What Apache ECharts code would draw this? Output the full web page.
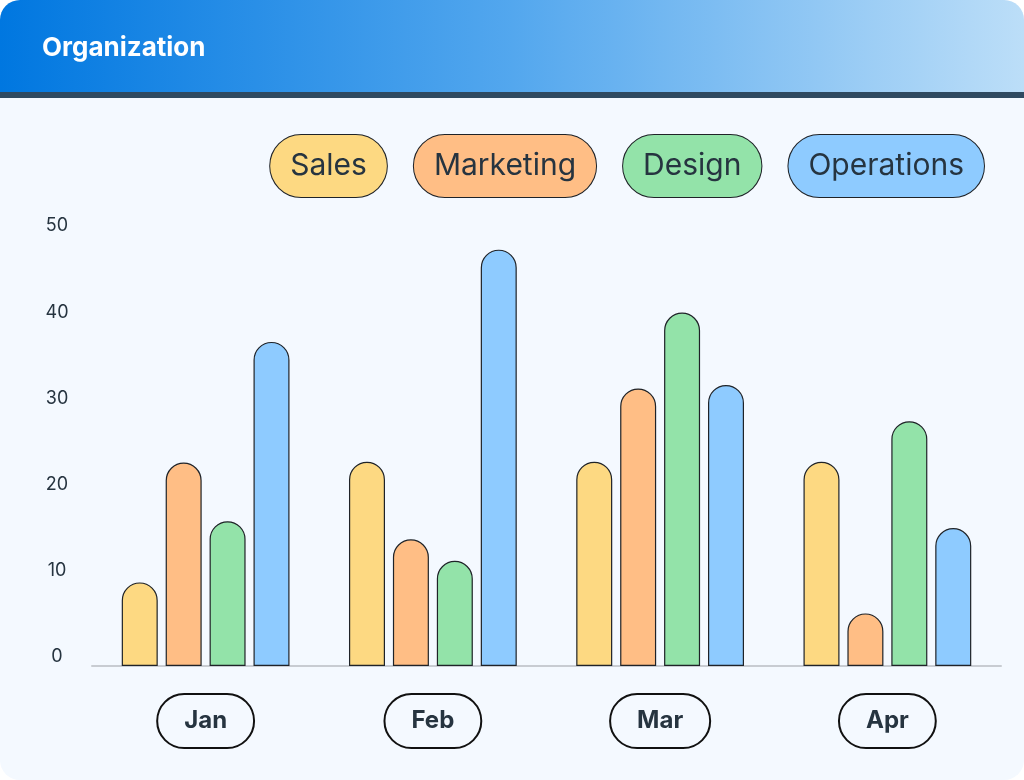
<!DOCTYPE html>
<html lang="en">
<head>
  <meta charset="UTF-8">
  <title>Organization</title>
  <script src="https://cdn.jsdelivr.net/npm/echarts@6/dist/echarts.min.js"></script>
  <style>
    html, body { margin: 0; padding: 0; background: #ffffff; }
    #card { width: 1024px; height: 780px; border-radius: 20px; overflow: hidden; background: #f4f9ff; }
  </style>
</head>
<body>
  <div id="card"><div id="main" style="width: 1024px; height: 780px;"></div></div>
  <script>
    // data
    var months = ['Jan', 'Feb', 'Mar', 'Apr'];
    var teams = ['Sales', 'Marketing', 'Design', 'Operations'];
    var sales = [9.7, 23.7, 23.7, 23.7];
    var marketing = [23.6, 14.7, 32.2, 6.1];
    var design = [16.8, 12.2, 41.0, 28.4];
    var operations = [37.6, 48.3, 32.6, 16.0];
    var yTicks = [0, 10, 20, 30, 40, 50];

    var colors = ['#fdd982', '#ffbe85', '#93e3a9', '#8ecbff'];
    var values = [sales, marketing, design, operations];
    var ink = '#263440';

    var myChart = echarts.init(document.getElementById('main'));

    var option = {
      backgroundColor: 'transparent',
      textStyle: { fontFamily: 'Inter' },
      title: {
        text: 'Organization',
        left: 37,
        top: 30,
        textStyle: { color: '#ffffff', fontSize: 26, fontWeight: 700, fontFamily: 'Inter' }
      },
      graphic: [
        {
          type: 'rect',
          z: -1,
          shape: { x: 0, y: 0, width: 1024, height: 92 },
          style: {
            fill: new echarts.graphic.LinearGradient(0, 0, 1, 0, [
              { offset: 0, color: '#0077e0' },
              { offset: 0.5, color: '#53a7ee' },
              { offset: 1, color: '#bcdef8' }
            ])
          }
        },
        {
          type: 'rect',
          z: -1,
          shape: { x: 0, y: 92, width: 1024, height: 6 },
          style: { fill: '#2f4a61' }
        }
      ],
      legend: {
        top: 129,
        right: 34,
        icon: 'none',
        itemWidth: 0,
        itemHeight: 0,
        itemGap: 21,
        selectedMode: false,
        data: teams.map(function (t, i) {
          return {
            name: t,
            textStyle: {
              backgroundColor: colors[i],
              borderColor: '#1f2328',
              borderWidth: 1,
              borderRadius: 31,
              padding: [14, 20, 14, 20],
              fontSize: 30,
              lineHeight: 34,
              color: ink,
              fontFamily: 'Inter'
            }
          };
        })
      },
      grid: { left: 92, right: 23, top: 235, bottom: 114, outerBoundsMode: 'none' },
      xAxis: {
        type: 'category',
        data: months,
        axisLine: { lineStyle: { color: '#c8ccd2', width: 2 } },
        axisTick: { show: false },
        axisLabel: {
          margin: 28,
          fontSize: 24,
          fontWeight: 700,
          color: ink,
          lineHeight: 28,
          padding: [13, 27, 13, 27],
          borderColor: '#111111',
          borderWidth: 2,
          borderRadius: 27
        }
      },
      yAxis: {
        type: 'value',
        min: 0,
        max: 50,
        interval: 10,
        axisLine: { show: false },
        axisTick: { show: false },
        splitLine: { show: false },
        axisLabel: {
          margin: 35,
          align: 'center',
          verticalAlign: 'bottom',
          lineHeight: 18,
          fontSize: 18,
          color: ink,
          formatter: function (v) { return yTicks.indexOf(v) >= 0 ? String(v) : ''; }
        }
      },
      series: teams.map(function (t, i) {
        return {
          name: t,
          type: 'bar',
          data: values[i],
          barWidth: 36,
          barGap: '22%',
          barCategoryGap: '26%',
          itemStyle: {
            color: colors[i],
            borderColor: '#1f2328',
            borderWidth: 1.2,
            borderRadius: [18, 18, 0, 0]
          }
        };
      })
    };

    myChart.setOption(option);
  </script>
</body>
</html>
